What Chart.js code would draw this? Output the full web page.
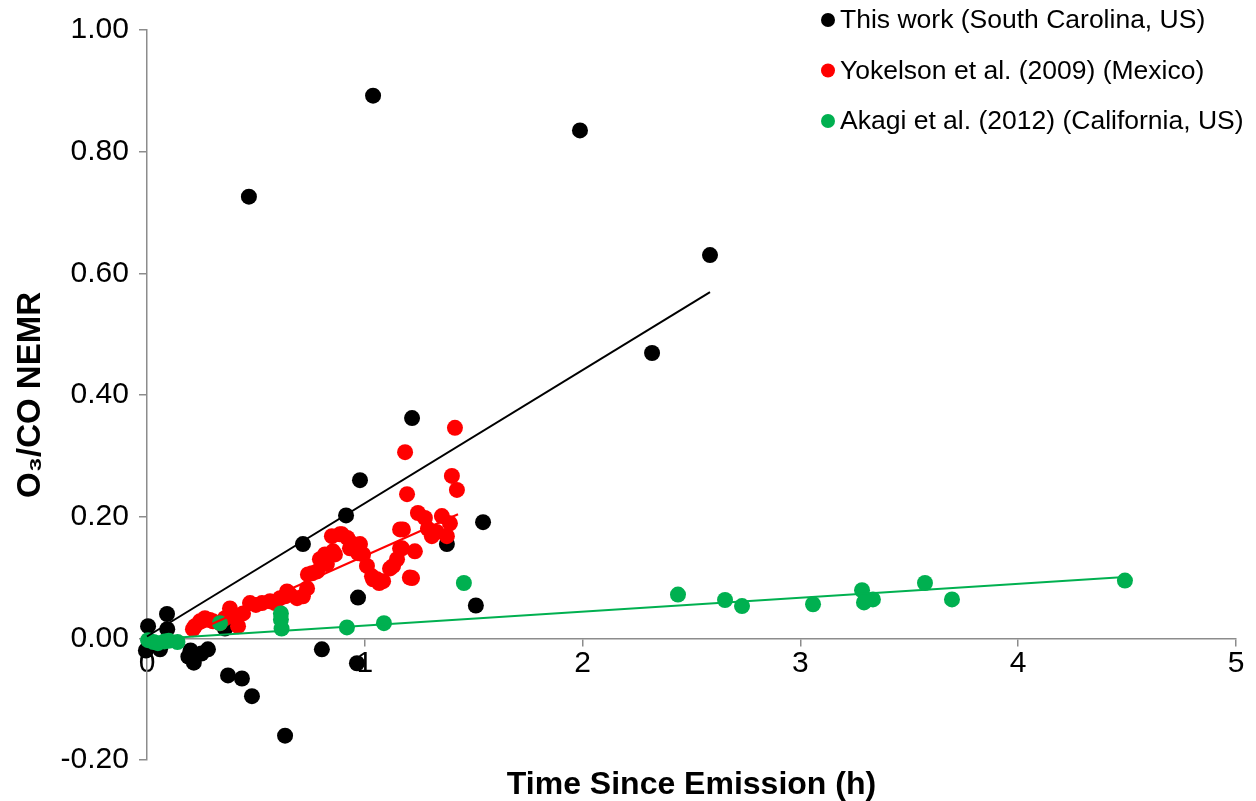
<!DOCTYPE html>
<html>
<head>
<meta charset="utf-8">
<script src="https://cdn.jsdelivr.net/npm/chart.js@4/dist/chart.umd.min.js"></script>
<style>
  html, body { margin: 0; padding: 0; background: #fff; }
  #wrap { width: 1256px; height: 801px; }
</style>
</head>
<body>
<div id="wrap"><canvas id="graph"></canvas></div>
<script>
// Series names and colours
var seriesLabels = ['This work (South Carolina, US)', 'Yokelson et al. (2009) (Mexico)', 'Akagi et al. (2012) (California, US)'];
var seriesColors = ['#000000', '#ff0000', '#00b050'];
// Axis ticks
var xTicks = [0, 1, 2, 3, 4, 5];
var yTicks = [-0.2, 0, 0.2, 0.4, 0.6, 0.8, 1.0];

// This work (South Carolina)
var thisWork = [
    [1.038, 0.892], [0.468, 0.726], [1.988, 0.835], [2.585, 0.630], [2.319, 0.469],
    [1.217, 0.362], [0.978, 0.260], [0.914, 0.202], [0.716, 0.155], [1.543, 0.191],
    [1.377, 0.155], [0.969, 0.067], [1.510, 0.054], [0.964, -0.041], [0.803, -0.018],
    [0.372, -0.061], [0.436, -0.066], [0.482, -0.095], [0.634, -0.160],
    [0.005, 0.020], [0.092, 0.040], [0.093, 0.015], [-0.005, -0.020], [0.060, -0.018],
    [0.030, -0.010], [0.200, -0.020], [0.215, -0.040], [0.280, -0.018], [0.190, -0.030],
    [0.250, -0.025], [0.358, 0.016], [0.010, -0.012]
];
// Yokelson et al. (2009)
var yokelson = [
    [0.211, 0.015], [0.220, 0.020], [0.243, 0.028], [0.266, 0.033], [0.289, 0.030],
    [0.303, 0.028], [0.335, 0.025], [0.358, 0.033], [0.381, 0.049], [0.413, 0.033],
    [0.418, 0.020], [0.441, 0.041], [0.473, 0.058], [0.500, 0.055], [0.528, 0.058],
    [0.565, 0.061], [0.588, 0.058], [0.611, 0.066], [0.634, 0.069], [0.643, 0.077],
    [0.657, 0.072], [0.689, 0.066], [0.716, 0.069], [0.735, 0.082], [0.739, 0.105],
    [0.758, 0.107], [0.781, 0.110], [0.794, 0.130], [0.817, 0.138], [0.826, 0.122],
    [0.854, 0.143], [0.863, 0.138], [0.849, 0.168], [0.886, 0.171], [0.895, 0.171],
    [0.932, 0.148], [0.941, 0.156], [0.969, 0.140], [0.978, 0.155], [0.992, 0.138],
    [1.010, 0.119], [1.033, 0.102], [1.038, 0.097], [1.056, 0.097], [1.084, 0.094],
    [1.116, 0.115], [1.130, 0.119], [1.148, 0.130], [1.162, 0.148], [1.162, 0.179],
    [1.175, 0.179], [1.185, 0.306], [1.194, 0.237], [1.207, 0.100], [1.217, 0.099],
    [1.230, 0.143], [1.244, 0.206], [1.276, 0.198], [1.308, 0.168], [1.354, 0.201],
    [1.377, 0.168], [1.391, 0.189], [1.400, 0.267], [1.414, 0.346], [1.423, 0.244],
    [1.066, 0.091], [1.171, 0.148], [1.290, 0.180], [1.330, 0.175], [0.920, 0.165]
];
// Akagi et al. (2012)
var akagi = [
    [0.005, -0.003], [0.030, -0.006], [0.050, -0.008], [0.080, -0.005], [0.100, -0.004],
    [0.140, -0.006], [0.335, 0.025], [0.615, 0.041], [0.615, 0.031], [0.618, 0.016],
    [0.918, 0.018], [1.088, 0.025], [1.455, 0.091], [2.438, 0.072], [2.654, 0.063],
    [2.732, 0.053], [3.058, 0.056], [3.283, 0.079], [3.292, 0.059], [3.333, 0.064],
    [3.572, 0.091], [3.696, 0.064], [4.490, 0.095]
];
// Linear fits (end points)
var fitThisWork = [[0, 0.003], [2.585, 0.569]];
var fitYokelson = [[0.2, 0.008], [1.428, 0.204]];
var fitAkagi = [[0, -0.002], [4.49, 0.101]];

function toXY(arr) {
    return arr.map(function (p) { return { x: p[0], y: p[1] }; });
}
function fitSet(arr, color) {
    return {
        data: toXY(arr), showLine: true, borderColor: color, borderWidth: 2,
        pointRadius: 0, pointHoverRadius: 0, fill: false, clip: false
    };
}
function dotSet(arr, color) {
    return {
        data: toXY(arr), backgroundColor: color, borderColor: color, borderWidth: 0,
        pointRadius: 8, pointHoverRadius: 8, clip: false
    };
}

// Legend drawn over the plot, top right
var legendPlugin = {
    id: 'cornerLegend',
    afterDraw: function (chart) {
        var ctx = chart.ctx;
        ctx.save();
        ctx.font = '26.5px "Liberation Sans", Arial, sans-serif';
        ctx.textBaseline = 'middle';
        seriesLabels.forEach(function (label, i) {
            var y = 20 + i * 50.5;
            ctx.fillStyle = seriesColors[i];
            ctx.beginPath();
            ctx.arc(828, y, 7, 0, Math.PI * 2);
            ctx.fill();
            ctx.fillStyle = '#000';
            ctx.fillText(label, 840, y + 1);
        });
        ctx.restore();
    }
};

var axisColor = '#8c8c8c';
var fontFamily = '"Liberation Sans", Arial, sans-serif';
var config = {
    type: 'scatter',
    data: {
        datasets: [
            fitSet(fitThisWork, seriesColors[0]),
            fitSet(fitYokelson, seriesColors[1]),
            fitSet(fitAkagi, seriesColors[2]),
            dotSet(akagi, seriesColors[2]),
            dotSet(yokelson, seriesColors[1]),
            dotSet(thisWork, seriesColors[0])
        ]
    },
    options: {
        responsive: true,
        maintainAspectRatio: false,
        animation: false,
        layout: { padding: { left: 5, right: 20, top: 30, bottom: 0 } },
        plugins: {
            legend: { display: false },
            tooltip: { enabled: false },
            title: {
                display: true,
                position: 'bottom',
                fullSize: false,
                text: 'Time Since Emission (h)',
                color: '#000',
                font: { family: fontFamily, size: 32, weight: 'bold', lineHeight: 1.0 },
                padding: { top: 9, bottom: 0 }
            }
        },
        scales: {
            x: {
                type: 'linear',
                position: { y: 0 },
                min: 0,
                max: 5,
                afterBuildTicks: function (axis) {
                    axis.ticks = xTicks.map(function (v) { return { value: v }; });
                },
                ticks: {
                    color: '#000',
                    padding: 0,
                    font: { family: fontFamily, size: 30 },
                    callback: function (v) { return String(v); }
                },
                grid: { drawOnChartArea: false, drawTicks: true, tickLength: 7, color: axisColor, lineWidth: 1.5 },
                border: { color: axisColor, width: 1.5 }
            },
            y: {
                type: 'linear',
                position: 'left',
                min: -0.2,
                max: 1.0,
                afterBuildTicks: function (axis) {
                    axis.ticks = yTicks.map(function (v) { return { value: v }; });
                },
                ticks: {
                    color: '#000',
                    padding: 10,
                    font: { family: fontFamily, size: 30 },
                    callback: function (v) { return Number(v).toFixed(2); }
                },
                title: {
                    display: true,
                    text: 'O\u2083/CO NEMR',
                    color: '#000',
                    font: { family: fontFamily, size: 33, weight: 'bold' },
                    padding: { top: 6, bottom: 0 }
                },
                grid: { drawOnChartArea: false, drawTicks: true, tickLength: 8, color: axisColor, lineWidth: 1.5 },
                border: { color: axisColor, width: 1.5 }
            }
        }
    },
    plugins: [legendPlugin]
};

new Chart(document.getElementById('graph'), config);
</script>
</body>
</html>
